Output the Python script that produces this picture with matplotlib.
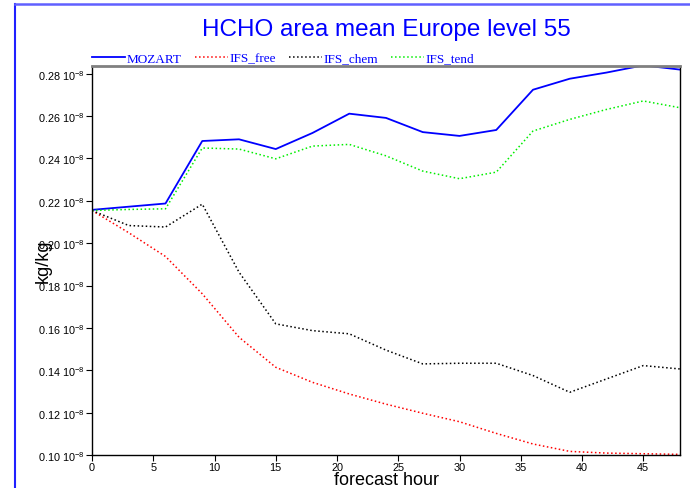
import matplotlib
matplotlib.use("Agg")
import matplotlib.pyplot as plt
from matplotlib.lines import Line2D
from matplotlib.ticker import FixedLocator, FuncFormatter

plt.rcParams['font.family'] = ['Liberation Sans', 'DejaVu Sans']
plt.rcParams['mathtext.default'] = 'regular'

# forecast hours (3-hourly output)
hours = [0, 3, 6, 9, 12, 15, 18, 21, 24, 27, 30, 33, 36, 39, 42, 45, 48]

# HCHO area means, in units of 1e-8 kg/kg
mozart = [0.2157, 0.2172, 0.2187, 0.2482, 0.2490, 0.2444, 0.2520, 0.2611, 0.2591,
          0.2524, 0.2506, 0.2534, 0.2724, 0.2776, 0.2805, 0.2839, 0.2819]
ifs_free = [0.2154, 0.2049, 0.1937, 0.1761, 0.1556, 0.1414, 0.1343, 0.1288, 0.1240,
            0.1197, 0.1157, 0.1102, 0.1052, 0.1017, 0.1009, 0.1006, 0.1003]
ifs_chem = [0.2154, 0.2083, 0.2076, 0.2184, 0.1863, 0.1619, 0.1587, 0.1572, 0.1495,
            0.1430, 0.1433, 0.1433, 0.1375, 0.1296, 0.1359, 0.1422, 0.1406]
ifs_tend = [0.2154, 0.2159, 0.2162, 0.2449, 0.2444, 0.2398, 0.2458, 0.2466, 0.2412,
            0.2340, 0.2304, 0.2335, 0.2529, 0.2584, 0.2631, 0.2671, 0.2639]

series = [
    ('MOZART', mozart, '#0000ff', '-', 1.3),
    ('IFS_free', ifs_free, '#ff0000', ':', 1.1),
    ('IFS_chem', ifs_chem, '#000000', ':', 1.1),
    ('IFS_tend', ifs_tend, '#00ee00', ':', 1.1),
]

yticks = [0.10, 0.12, 0.14, 0.16, 0.18, 0.20, 0.22, 0.24, 0.26, 0.28]
xticks = [0, 5, 10, 15, 20, 25, 30, 35, 40, 45]

fig = plt.figure(figsize=(6.9, 4.89), dpi=100)
ax = fig.add_axes([92 / 690, 1 - 456 / 489, 588 / 690, 389 / 489])

for name, vals, color, ls, lw in series:
    ax.plot(hours, vals, color=color, linestyle=ls, linewidth=lw, label=name)

ax.set_xlim(0, 48)
ax.set_ylim(0.10, 0.2836)
ax.xaxis.set_major_locator(FixedLocator(xticks))
ax.yaxis.set_major_locator(FixedLocator(yticks))
ax.yaxis.set_major_formatter(FuncFormatter(lambda v, p: '%.2f 10$^{-8}$' % v))
ax.tick_params(axis='both', direction='out', length=4, width=0.8,
               labelsize=7.8, pad=1)

for side in ['left', 'bottom', 'right']:
    ax.spines[side].set_color('black')
    ax.spines[side].set_linewidth(1.0)
ax.spines['top'].set_color('#808080')
ax.spines['top'].set_linewidth(2.0)

ax.set_xlabel('forecast hour', fontsize=13, labelpad=-1)
ax.set_ylabel('kg/kg', fontsize=13)
ax.yaxis.set_label_coords(-0.068, 0.5)

leg = ax.legend(loc='lower left', bbox_to_anchor=(-0.002, 1.0), ncol=4,
                frameon=False, handlelength=2.5, handletextpad=0.15,
                columnspacing=0.95, borderaxespad=0, borderpad=0.1,
                prop={'family': 'Liberation Serif', 'size': 9.5})
for t in leg.get_texts():
    t.set_color('#0000ff')

fig.text(386 / 690, 1 - 30 / 489, 'HCHO area mean Europe level 55',
         ha='center', va='center', fontsize=17.5, color='#0000ff')

# page frame
fig.add_artist(Line2D([15 / 690, 15 / 690], [0, 1 - 5 / 489],
                      color='#2020ff', linewidth=1.5))
fig.add_artist(Line2D([15 / 690, 1], [1 - 5 / 489, 1 - 5 / 489],
                      color='#6060ff', linewidth=1.8))

fig.savefig('out.png', dpi=100)
